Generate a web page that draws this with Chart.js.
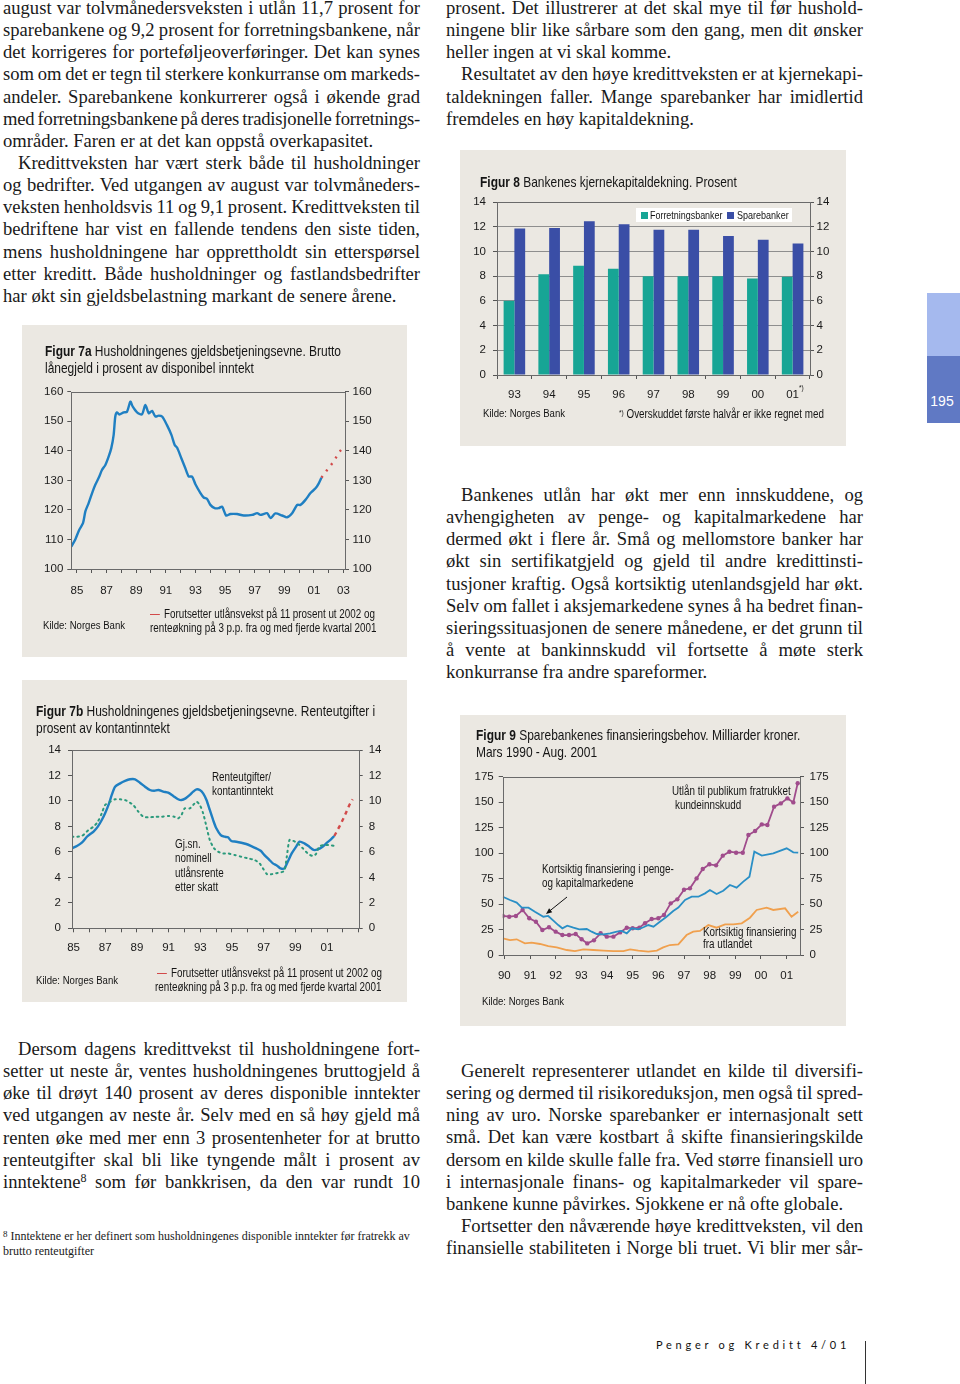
<!DOCTYPE html>
<html><head><meta charset="utf-8">
<script src="https://cdn.jsdelivr.net/npm/chart.js@4"></script>
<style>
html,body{margin:0;padding:0;background:#fff;}
#page{position:relative;width:960px;height:1384px;overflow:hidden;background:#fff;}
.body{position:absolute;width:417px;font-family:"Liberation Serif","Times New Roman",serif;font-size:18.6px;line-height:22.15px;color:#1a1a1a;}
.ln{white-space:nowrap;height:22.15px;}
.ln.in{padding-left:15px;}
.body sup{font-size:12px;line-height:0;vertical-align:6px;}
.panel{position:absolute;background:#ebe8e2;}
.cv{position:absolute;}
.ann{position:absolute;font-family:"Liberation Sans",Arial,sans-serif;font-size:11.7px;line-height:14px;color:#151515;white-space:nowrap;transform:scaleX(0.82);transform-origin:0 0;}
.lbl{font-size:12px;line-height:14px;}
.ttl{font-size:14.6px;}
.ttl b{font-weight:bold;}
.dash{display:inline-block;width:12px;height:0;border-top:1.3px solid #d24a4a;vertical-align:middle;margin-right:5px;}
#foot{position:absolute;left:3px;top:1228.5px;font-family:"Liberation Serif","Times New Roman",serif;font-size:12px;line-height:15px;color:#1a1a1a;white-space:nowrap;}
#foot sup{font-size:9px;line-height:0;vertical-align:3px;}
</style></head>
<body><div id="page">

<div class="body" style="left:3px;top:-3px;">
<div class="ln j"><span>august var tolvmånedersveksten i utlån 11,7 prosent for</span></div>
<div class="ln j"><span>sparebankene og 9,2 prosent for forretningsbankene, når</span></div>
<div class="ln j"><span>det korrigeres for porteføljeoverføringer. Det kan synes</span></div>
<div class="ln j"><span>som om det er tegn til sterkere konkurranse om markeds-</span></div>
<div class="ln j"><span>andeler. Sparebankene konkurrerer også i økende grad</span></div>
<div class="ln j"><span>med forretningsbankene på deres tradisjonelle forretnings-</span></div>
<div class="ln"><span>områder. Faren er at det kan oppstå overkapasitet.</span></div>
<div class="ln j in"><span>Kredittveksten har vært sterk både til husholdninger</span></div>
<div class="ln j"><span>og bedrifter. Ved utgangen av august var tolvmåneders-</span></div>
<div class="ln j"><span>veksten henholdsvis 11 og 9,1 prosent. Kredittveksten til</span></div>
<div class="ln j"><span>bedriftene har vist en fallende tendens den siste tiden,</span></div>
<div class="ln j"><span>mens husholdningene har opprettholdt sin etterspørsel</span></div>
<div class="ln j"><span>etter kreditt. Både husholdninger og fastlandsbedrifter</span></div>
<div class="ln"><span>har økt sin gjeldsbelastning markant de senere årene.</span></div>
</div>

<div class="body" style="left:446px;top:-3px;">
<div class="ln j"><span>prosent. Det illustrerer at det skal mye til før hushold-</span></div>
<div class="ln j"><span>ningene blir like sårbare som den gang, men dit ønsker</span></div>
<div class="ln"><span>heller ingen at vi skal komme.</span></div>
<div class="ln j in"><span>Resultatet av den høye kredittveksten er at kjernekapi-</span></div>
<div class="ln j"><span>taldekningen faller. Mange sparebanker har imidlertid</span></div>
<div class="ln"><span>fremdeles en høy kapitaldekning.</span></div>
</div>

<div class="body" style="left:446px;top:484px;">
<div class="ln j in"><span>Bankenes utlån har økt mer enn innskuddene, og</span></div>
<div class="ln j"><span>avhengigheten av penge- og kapitalmarkedene har</span></div>
<div class="ln j"><span>dermed økt i flere år. Små og mellomstore banker har</span></div>
<div class="ln j"><span>økt sin sertifikatgjeld og gjeld til andre kredittinsti-</span></div>
<div class="ln j"><span>tusjoner kraftig. Også kortsiktig utenlandsgjeld har økt.</span></div>
<div class="ln j"><span>Selv om fallet i aksjemarkedene synes å ha bedret finan-</span></div>
<div class="ln j"><span>sieringssituasjonen de senere månedene, er det grunn til</span></div>
<div class="ln j"><span>å vente at bankinnskudd vil fortsette å møte sterk</span></div>
<div class="ln"><span>konkurranse fra andre spareformer.</span></div>
</div>

<div class="body" style="left:3px;top:1038px;">
<div class="ln j in"><span>Dersom dagens kredittvekst til husholdningene fort-</span></div>
<div class="ln j"><span>setter ut neste år, ventes husholdningenes bruttogjeld å</span></div>
<div class="ln j"><span>øke til drøyt 140 prosent av deres disponible inntekter</span></div>
<div class="ln j"><span>ved utgangen av neste år. Selv med en så høy gjeld må</span></div>
<div class="ln j"><span>renten øke med mer enn 3 prosentenheter for at brutto</span></div>
<div class="ln j"><span>renteutgifter skal bli like tyngende målt i prosent av</span></div>
<div class="ln j"><span>inntektene<sup>8</sup> som før bankkrisen, da den var rundt 10</span></div>
</div>

<div id="foot"><sup>8</sup> Inntektene er her definert som husholdningenes disponible inntekter før fratrekk av<br>brutto renteutgifter</div>

<div class="body" style="left:446px;top:1060px;">
<div class="ln j in"><span>Generelt representerer utlandet en kilde til diversifi-</span></div>
<div class="ln j"><span>sering og dermed til risikoreduksjon, men også til spred-</span></div>
<div class="ln j"><span>ning av uro. Norske sparebanker er internasjonalt sett</span></div>
<div class="ln j"><span>små. Det kan være kostbart å skifte finansieringskilde</span></div>
<div class="ln j"><span>dersom en kilde skulle falle fra. Ved større finansiell uro</span></div>
<div class="ln j"><span>i internasjonale finans- og kapitalmarkeder vil spare-</span></div>
<div class="ln"><span>bankene kunne påvirkes. Sjokkene er nå ofte globale.</span></div>
<div class="ln j in"><span>Fortsetter den nåværende høye kredittveksten, vil den</span></div>
<div class="ln j"><span>finansielle stabiliteten i Norge bli truet. Vi blir mer sår-</span></div>
</div>

<!-- sidebar -->
<div style="position:absolute;left:927px;top:293px;width:33px;height:63px;background:#a5b9ee;"></div>
<div style="position:absolute;left:927px;top:356px;width:33px;height:67px;background:#6079c4;"></div>
<div style="position:absolute;left:927px;top:393px;width:30px;text-align:center;font-family:'Liberation Sans',Arial,sans-serif;font-size:14px;line-height:16px;color:#fff;">195</div>

<!-- footer -->
<div style="position:absolute;left:656px;top:1338px;font-family:Lato,'Open Sans',sans-serif;font-size:11px;letter-spacing:3.75px;line-height:14px;color:#111;white-space:nowrap;">Penger og Kreditt 4/01</div>
<div style="position:absolute;left:865px;top:1341px;width:1px;height:43px;background:#333;"></div>

<!-- Figure 8 -->
<div class="panel" style="left:460px;top:150px;width:386px;height:296px;"></div>
<canvas id="c8" class="cv" style="left:460px;top:150px;" width="386" height="296"></canvas>
<div class="ann ttl" style="left:480px;top:174px;line-height:17px;"><b>Figur 8</b> Bankenes kjernekapitaldekning. Prosent</div>
<div style="position:absolute;left:636px;top:208px;width:156px;height:14px;background:#fff;"></div>
<div style="position:absolute;left:641px;top:212px;width:7px;height:7px;background:#17a595;"></div>
<div class="ann" style="left:650px;top:208px;font-size:10.9px;">Forretningsbanker</div>
<div style="position:absolute;left:727px;top:212px;width:7px;height:7px;background:#3a4ea6;"></div>
<div class="ann" style="left:737px;top:208px;font-size:11px;">Sparebanker</div>
<div class="ann" style="left:799px;top:383px;font-size:8px;line-height:9px;">*)</div>
<div class="ann" style="left:483px;top:406px;">Kilde: Norges Bank</div>
<div class="ann" style="left:619px;top:406px;font-size:12px;"><span style="font-size:8px;vertical-align:3px;">*)</span> Overskuddet første halvår er ikke regnet med</div>

<!-- Figure 7a -->
<div class="panel" style="left:22px;top:325px;width:385px;height:332px;"></div>
<canvas id="c7a" class="cv" style="left:22px;top:325px;" width="385" height="332"></canvas>
<div class="ann ttl" style="left:45px;top:343px;line-height:17px;"><b>Figur 7a</b> Husholdningenes gjeldsbetjeningsevne. Brutto<br>lånegjeld i prosent av disponibel inntekt</div>
<div class="ann" style="left:43px;top:618px;">Kilde: Norges Bank</div>
<div class="ann" style="left:150px;top:607px;font-size:12px;"><span class="dash"></span>Forutsetter utlånsvekst på 11 prosent ut 2002 og</div>
<div class="ann" style="left:150px;top:621px;font-size:12px;">renteøkning på 3 p.p. fra og med fjerde kvartal 2001</div>

<!-- Figure 7b -->
<div class="panel" style="left:22px;top:680px;width:385px;height:322px;"></div>
<canvas id="c7b" class="cv" style="left:22px;top:680px;" width="385" height="322"></canvas>
<div class="ann ttl" style="left:36px;top:703px;line-height:16.5px;"><b>Figur 7b</b> Husholdningenes gjeldsbetjeningsevne. Renteutgifter i<br>prosent av kontantinntekt</div>
<div class="ann lbl" style="left:212px;top:770px;">Renteutgifter/<br>kontantinntekt</div>
<div class="ann lbl" style="left:175px;top:837px;line-height:14.4px;">Gj.sn.<br>nominell<br>utlånsrente<br>etter skatt</div>
<div class="ann" style="left:36px;top:973px;">Kilde: Norges Bank</div>
<div class="ann" style="left:157px;top:966px;font-size:12px;"><span class="dash"></span>Forutsetter utlånsvekst på 11 prosent ut 2002 og</div>
<div class="ann" style="left:155px;top:980px;font-size:12px;">renteøkning på 3 p.p. fra og med fjerde kvartal 2001</div>

<!-- Figure 9 -->
<div class="panel" style="left:460px;top:715px;width:386px;height:311px;"></div>
<canvas id="c9" class="cv" style="left:460px;top:715px;" width="386" height="311"></canvas>
<div class="ann ttl" style="left:476px;top:727px;line-height:17.3px;"><b>Figur 9</b> Sparebankenes finansieringsbehov. Milliarder kroner.<br>Mars 1990 - Aug. 2001</div>
<div class="ann lbl" style="left:672px;top:784px;">Utlån til publikum fratrukket</div>
<div class="ann lbl" style="left:675px;top:798px;">kundeinnskudd</div>
<div class="ann lbl" style="left:542px;top:863px;line-height:13.5px;">Kortsiktig finansiering i penge-<br>og kapitalmarkedene</div>
<div class="ann lbl" style="left:703px;top:926px;line-height:12px;">Kortsiktig finansiering<br>fra utlandet</div>
<div class="ann" style="left:482px;top:994px;">Kilde: Norges Bank</div>
<svg style="position:absolute;left:0;top:0;pointer-events:none;" width="960" height="1384">
<line x1="567" y1="897" x2="550" y2="910.7" stroke="#111" stroke-width="1"/>
<polygon points="546,914 552.2,912.2 549.1,908.3" fill="#111"/>
</svg>

</div>
<script>
// ---------- DATA ----------
const fig8Years = ['93','94','95','96','97','98','99','00','01'];
const fig8Forretningsbanker = [6.0, 8.15, 8.85, 8.6, 8.0, 8.0, 8.0, 7.8, 7.95];
const fig8Sparebanker = [11.85, 11.9, 12.45, 12.2, 11.75, 11.75, 11.25, 10.95, 10.65];

const fig7aYears = [1984.62,1984.89,1985.16,1985.41,1985.57,1985.79,1986.06,1986.24,1986.51,1986.69,1986.92,1987.14,1987.32,1987.48,1987.59,1987.7,1987.86,1988.16,1988.38,1988.61,1988.76,1989.06,1989.39,1989.62,1989.85,1990.07,1990.3,1990.52,1990.75,1991.08,1991.38,1991.6,1991.76,1992.05,1992.32,1992.55,1992.77,1993.0,1993.34,1993.56,1993.79,1994.01,1994.3,1994.57,1994.8,1995.07,1995.36,1995.81,1996.26,1996.83,1997.17,1997.39,1997.84,1998.07,1998.4,1998.85,1999.19,1999.53,1999.87,2000.09,2000.43,2000.77,2001.11,2001.33,2001.51];
const fig7aDebt = [107.6,110,113.3,115.5,119.5,122.3,126.2,128.5,131.3,133.5,135.2,138,140.9,145.4,151.6,153,152.3,153,153.2,156.6,155,153,152.3,155.5,152.7,153.5,151.6,151.9,151.6,148.7,145.4,142,141.1,137.5,134.1,131.3,131.3,128.7,125.7,124.2,123.7,121.7,120.6,120.6,121.1,118.1,118.6,118.6,118.1,118.3,118.9,118.3,118.9,117.2,118.8,118.1,117.5,118.9,121.7,121.7,123.4,125.7,127.3,129,130.9];
const fig7aProjYears = [2001.51,2001.89,2002.34,2002.68,2003.1];
const fig7aProj = [130.9,133.5,136.4,139.4,141.8];
const fig7aTickYears = [1985,1986,1987,1988,1989,1990,1991,1992,1993,1994,1995,1996,1997,1998,1999,2000,2001,2002,2003];
const fig7aLabelYears = [1985,1987,1989,1991,1993,1995,1997,1999,2001,2003];

const fig7bYears = [1984.9,1985.21,1985.52,1985.84,1986.05,1986.26,1986.53,1986.78,1986.99,1987.24,1987.41,1987.62,1987.94,1988.25,1988.56,1988.88,1989.19,1989.51,1989.82,1990.09,1990.35,1990.66,1990.97,1991.29,1991.6,1991.81,1992.07,1992.34,1992.55,1992.76,1992.97,1993.18,1993.39,1993.6,1993.81,1994.01,1994.29,1994.54,1994.75,1994.96,1995.27,1995.59,1995.9,1996.22,1996.53,1996.81,1997.05,1997.37,1997.58,1997.85,1998.06,1998.31,1998.52,1998.77,1999.05,1999.26,1999.57,1999.88,2000.16,2000.41,2000.72,2001.0,2001.25,2001.46];
const fig7bRenteutgifter = [6.28,6.46,6.72,7.19,7.4,7.59,7.98,8.5,9.03,9.81,10.47,11.12,11.38,11.57,11.7,11.7,11.43,11.12,10.86,10.8,10.86,10.73,10.65,10.39,10.13,10.07,10.2,10.47,10.73,10.91,10.86,10.6,10.07,9.29,8.5,7.85,7.32,7.19,7.14,6.85,6.8,6.72,6.62,6.46,6.28,6.09,5.75,5.36,5.1,4.92,4.71,4.71,5.23,5.88,6.41,6.8,6.67,6.41,6.15,6.2,6.41,6.72,6.98,7.25];
const fig7bRateYears = [1984.9,1985.21,1985.52,1985.73,1985.94,1986.26,1986.53,1986.78,1986.99,1987.31,1987.62,1987.94,1988.25,1988.56,1988.77,1989.09,1989.4,1989.72,1990.14,1990.56,1990.97,1991.35,1991.6,1991.81,1992.02,1992.34,1992.55,1992.76,1992.97,1993.18,1993.39,1993.6,1993.87,1994.12,1994.43,1994.75,1995.17,1995.59,1996.01,1996.43,1996.74,1996.95,1997.22,1997.47,1997.79,1998.1,1998.31,1998.46,1998.63,1998.84,1999.15,1999.47,1999.78,2000.09,2000.3,2000.51,2000.83,2001.14,2001.46];
const fig7bUtlansrente = [7.19,7.19,7.25,7.46,7.72,7.98,8.37,9.03,9.68,9.94,10.13,10.13,10.07,9.86,9.68,9.16,8.76,8.71,8.76,8.76,8.82,8.76,8.63,8.9,9.42,9.42,9.68,9.94,9.68,9.03,7.98,6.93,6.28,6.02,5.88,5.88,5.75,5.62,5.49,5.36,5.1,4.71,4.24,4.24,4.32,4.4,4.52,5.62,6.93,6.88,6.67,6.28,5.88,5.68,5.83,6.41,6.54,6.54,6.46];
const fig7bProjYears = [2001.46,2001.78,2002.09,2002.41,2002.62];
const fig7bProj = [7.25,7.98,8.76,9.68,10.13];
const fig7bTickYears = [1985,1986,1987,1988,1989,1990,1991,1992,1993,1994,1995,1996,1997,1998,1999,2000,2001,2002,2003];
const fig7bLabelYears = [1985,1987,1989,1991,1993,1995,1997,1999,2001];

const fig9UtlanYears = [1989.94,1990.19,1990.45,1990.71,1990.97,1991.23,1991.48,1991.74,1992.0,1992.26,1992.52,1992.78,1993.01,1993.23,1993.49,1993.75,1993.99,1994.25,1994.51,1994.77,1995.0,1995.26,1995.48,1995.74,1996.0,1996.22,1996.48,1996.74,1997.0,1997.23,1997.49,1997.73,1997.99,1998.25,1998.51,1998.77,1999.03,1999.29,1999.51,1999.77,2000.03,2000.25,2000.51,2000.77,2001.03,2001.26,2001.43];
const fig9Utlan = [38.3,37.6,38.3,44.2,36,32.7,24.5,27.2,22.9,19.6,19.6,20.6,15.4,11.4,14.4,21.3,18,18,22.2,26.8,26.2,26.8,31.1,35.3,36,39.3,50.7,54.6,64.1,65.4,75.2,84.4,89,88,97.5,101.4,100.4,100.4,117.8,121.7,128.2,127.6,145.6,148.8,153.7,149.8,168.5];
const fig9PengeYears = [1989.94,1990.22,1990.48,1990.68,1990.94,1991.19,1991.52,1991.71,1991.91,1992.1,1992.26,1992.45,1992.69,1992.92,1993.21,1993.4,1993.6,1993.86,1994.12,1994.38,1994.57,1994.77,1994.96,1995.22,1995.42,1995.61,1995.81,1996.06,1996.32,1996.58,1996.78,1997.04,1997.3,1997.56,1997.82,1998.01,1998.27,1998.53,1998.79,1999.05,1999.31,1999.55,1999.74,2000.03,2000.48,2001.0,2001.26,2001.45];
const fig9Penge = [57.2,54,51.4,46.5,46.5,42.5,37.6,38.3,33.7,29.4,26.2,28.8,26.8,25.2,25.5,22.9,20.6,20.3,21.3,22.9,23.6,21.3,26.2,25.2,27.2,29.4,27.8,32.7,37.6,43.2,46.5,54,57.2,57.2,60.5,63.8,59.9,63.1,68.7,66.1,72,76.9,101.4,97.5,99.8,104.7,100.8,100.4];
const fig9UtlandYears = [1989.94,1990.22,1990.48,1990.8,1991.06,1991.39,1991.71,1992.04,1992.43,1992.75,1993.08,1993.47,1993.86,1994.25,1994.64,1994.9,1995.22,1995.61,1995.94,1996.19,1996.45,1996.78,1997.1,1997.36,1997.62,1997.95,1998.27,1998.6,1998.92,1999.25,1999.57,1999.83,2000.22,2000.48,2000.94,2001.19,2001.45];
const fig9Utland = [16.4,14.7,15.4,11.4,12.1,10.8,8.8,7.5,4.9,3.9,5.6,4.9,4.3,3.9,3.9,5.6,4.3,3.3,4.3,7.5,9.8,10.5,19.6,22.9,23.6,29.4,26.8,30.1,30.1,31.1,36.6,44.2,46.5,44.2,45.8,37.6,42.5];
const fig9TickYears = [1990,1991,1992,1993,1994,1995,1996,1997,1998,1999,2000,2001];

// ---------- TEXT JUSTIFICATION ----------
document.querySelectorAll('.ln.j').forEach(l => {
  const span = l.firstElementChild;
  const cs = getComputedStyle(l);
  const avail = l.clientWidth - parseFloat(cs.paddingLeft);
  const w = span.getBoundingClientRect().width;
  const n = (span.textContent.match(/ /g) || []).length;
  const chars = span.textContent.length;
  if (n === 0) return;
  let ws = (avail - w) / n;
  if (ws < -1.3) {
    ws = -1.3;
    span.style.wordSpacing = ws + 'px';
    const w2 = span.getBoundingClientRect().width;
    span.style.letterSpacing = ((avail - w2) / chars) + 'px';
    const w3 = span.getBoundingClientRect().width;
    span.style.wordSpacing = (ws + (avail - w3) / n) + 'px';
  } else {
    span.style.wordSpacing = ws + 'px';
  }
});

const TICKFONT = '"Liberation Sans",Arial,sans-serif';
Chart.defaults.font.family = TICKFONT;
Chart.defaults.font.size = 11.5;
Chart.defaults.color = '#1a1a1a';

const frame = {
  id: 'frame',
  afterDatasetsDraw(chart) {
    const {ctx, chartArea: a} = chart;
    ctx.save();
    ctx.strokeStyle = '#6a6a6a';
    ctx.lineWidth = 1;
    ctx.strokeRect(Math.round(a.left) + 0.5, Math.round(a.top) + 0.5, Math.round(a.right - a.left), Math.round(a.bottom - a.top));
    ctx.restore();
  }
};
const pts = (xs, ys) => xs.map((x, i) => ({x, y: ys[i]}));
const yy = v => String(v % 100).padStart(2, '0');

function yScale(pos, min, max, step, w, pad, grid) {
  return {
    type: 'linear', position: pos, min, max,
    ticks: {stepSize: step, padding: pad},
    grid: {drawOnChartArea: !!grid, color: '#8e8e8e', tickColor: '#555', tickLength: 4},
    border: {display: false},
    afterFit(s) { s.width = w; }
  };
}
function xYears(min, max, tickYears, labelYears, pad) {
  return {
    type: 'linear', min, max,
    afterBuildTicks(s) { s.ticks = tickYears.map(v => ({value: v})); },
    ticks: {autoSkip: false, maxRotation: 0, padding: pad,
      callback: v => labelYears.includes(v) ? yy(v) : ''},
    grid: {drawOnChartArea: false, tickColor: '#555', tickLength: 4},
    border: {display: false},
    afterFit(s) { s.height = 30; }
  };
}
const base = (pad) => ({
  responsive: false, animation: false,
  layout: {padding: pad},
  plugins: {legend: {display: false}, tooltip: {enabled: false}},
  elements: {point: {radius: 0}}
});

// ---------- FIGURE 8 ----------
new Chart(document.getElementById('c8'), {
  type: 'bar',
  data: {labels: fig8Years, datasets: [
    {label: 'Forretningsbanker', data: fig8Forretningsbanker, backgroundColor: '#17a595', categoryPercentage: 0.62, barPercentage: 1},
    {label: 'Sparebanker', data: fig8Sparebanker, backgroundColor: '#3a4ea6', categoryPercentage: 0.62, barPercentage: 1}
  ]},
  options: Object.assign(base({top: 52, left: 0, right: 0, bottom: 41}), {
    scales: {
      x: {grid: {offset: true, drawOnChartArea: false, tickColor: '#555', tickLength: 4}, border: {display: false},
          ticks: {padding: 9}, afterFit(s) { s.height = 30; }},
      y: yScale('left', 0, 14, 2, 37, 7, true),
      y2: yScale('right', 0, 14, 2, 36, 2.5, false)
    }
  }),
  plugins: [frame]
});

// ---------- FIGURE 7a ----------
new Chart(document.getElementById('c7a'), {
  type: 'line',
  data: {datasets: [
    {label: 'Bruttogjeld', data: pts(fig7aYears, fig7aDebt), borderColor: '#1f7fc2', borderWidth: 2.4, tension: 0.25},
    {label: 'Forutsetter', data: pts(fig7aProjYears, fig7aProj), borderColor: '#d24a4a', borderWidth: 2.4, borderDash: [2, 6], tension: 0}
  ]},
  options: Object.assign(base({top: 66.7, left: 0, right: 0, bottom: 58}), {
    scales: {
      x: xYears(1984.62, 2003.1, fig7aTickYears, fig7aLabelYears, 11),
      y: yScale('left', 100, 160, 10, 49.3, 4, false),
      y2: yScale('right', 100, 160, 10, 62, 3.5, false)
    }
  }),
  plugins: [frame]
});

// ---------- FIGURE 7b ----------
new Chart(document.getElementById('c7b'), {
  type: 'line',
  data: {datasets: [
    {label: 'Gj.sn. nominell utlånsrente etter skatt', data: pts(fig7bRateYears, fig7bUtlansrente), borderColor: '#2b9a7c', borderWidth: 2, borderDash: [1.5, 4], borderCapStyle: 'round', tension: 0.25},
    {label: 'Renteutgifter/kontantinntekt', data: pts(fig7bYears, fig7bRenteutgifter), borderColor: '#1f7fc2', borderWidth: 2.4, tension: 0.25},
    {label: 'Forutsetter', data: pts(fig7bProjYears, fig7bProj), borderColor: '#d24a4a', borderWidth: 2.4, borderDash: [4, 4], tension: 0}
  ]},
  options: Object.assign(base({top: 70, left: 0, right: 0, bottom: 43.7}), {
    scales: {
      x: xYears(1984.9, 2003, fig7bTickYears, fig7bLabelYears, 9),
      y: yScale('left', 0, 14, 2, 50, 7, false),
      y2: yScale('right', 0, 14, 2, 48.3, 6, false)
    }
  }),
  plugins: [frame]
});

// ---------- FIGURE 9 ----------
new Chart(document.getElementById('c9'), {
  type: 'line',
  data: {datasets: [
    {label: 'Kortsiktig finansiering fra utlandet', data: pts(fig9UtlandYears, fig9Utland), borderColor: '#f0a04e', borderWidth: 1.8, tension: 0},
    {label: 'Kortsiktig finansiering i penge- og kapitalmarkedene', data: pts(fig9PengeYears, fig9Penge), borderColor: '#2a8fc6', borderWidth: 1.8, tension: 0},
    {label: 'Utlån til publikum fratrukket kundeinnskudd', data: pts(fig9UtlanYears, fig9Utlan), borderColor: '#a04c8c', borderWidth: 1.8, tension: 0,
     pointRadius: 2.2, pointBackgroundColor: '#a04c8c', pointBorderWidth: 0}
  ]},
  options: Object.assign(base({top: 61.7, left: 0, right: 0, bottom: 41}), {
    scales: {
      x: xYears(1989.935, 2001.52, fig9TickYears, fig9TickYears, 10),
      y: yScale('left', 0, 175, 25, 42.7, 5, false),
      y2: yScale('right', 0, 175, 25, 46, 5.5, false)
    }
  }),
  plugins: [frame]
});
</script>
</body></html>
